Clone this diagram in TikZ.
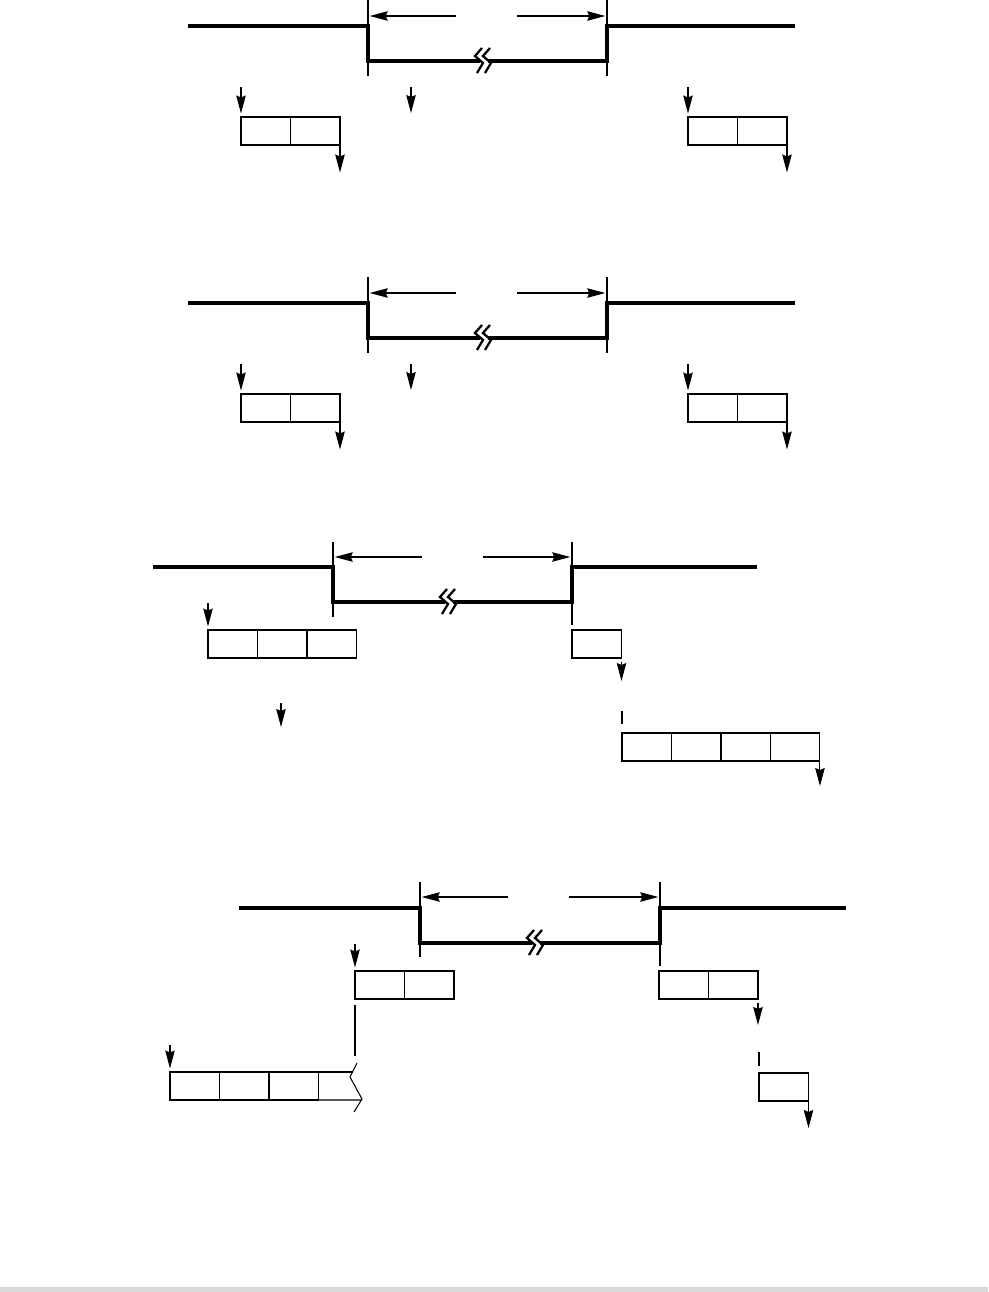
\documentclass[tikz,border=0pt]{standalone}
\usepackage{tikz}
\usetikzlibrary{arrows.meta,positioning}

\begin{document}
\begin{tikzpicture}[
    x=0.02cm, y=-0.02cm,
    sig/.style={line width=2pt},
    brk/.style={line width=1.3pt},
    tick/.style={line width=0.6pt},
    arr/.style={-{Stealth[length=3.6mm,width=1.9mm,inset=0.4mm]},line width=0.6pt},
    cell/.style={draw,line width=0.6pt,minimum width=0.99cm,minimum height=0.56cm,inner sep=0pt,outer sep=0pt}
]
\useasboundingbox (0,0) rectangle (988,1292);
\fill[gray!30] (0,1287) rectangle (988,1292);

% row 1
\draw[sig] (188,26) -- (368,26) -- (368,61) -- (480,61);
\draw[sig] (488,61) -- (607,61) -- (607,26) -- (795,26);
\draw[brk] (482,48) -- (475,56) -- (483,63) -- (477,73);
\draw[brk] (490,48) -- (483,56) -- (491,63) -- (485,73);
\coordinate (ta1) at (368,0);
\coordinate (tb1) at (607,0);
\draw[tick] (ta1) -- (368,76);
\draw[tick] (tb1) -- (607,76);
\coordinate (da1) at (456,16);
\coordinate (db1) at (517,16);
\draw[arr,shorten >=1pt] (da1) -- (da1 -| ta1);
\draw[arr,shorten >=1pt] (db1) -- (db1 -| tb1);
\node[cell,anchor=north west] (l11) at (241,117) {};
\node[cell,right=0pt of l11] (l12) {};
\node[cell,anchor=north west] (r11) at (688,117) {};
\node[cell,right=0pt of r11] (r12) {};
\coordinate[above=0.6cm of l11.north west] (il1);
\coordinate[above=0.6cm of r11.north west] (ir1);
\coordinate (im1) at (411,87);
\coordinate (jm1) at (411,113);
\coordinate[below=0.55cm of l12.south east] (ol1);
\coordinate[below=0.55cm of r12.south east] (or1);
\draw[arr,shorten >=2pt] (il1) -- (l11.north west);
\draw[arr] (im1) -- (jm1);
\draw[arr,shorten >=2pt] (ir1) -- (r11.north west);
\draw[arr] (l12.south east) -- (ol1);
\draw[arr] (r12.south east) -- (or1);

% row 2
\draw[sig] (188,303) -- (368,303) -- (368,338) -- (480,338);
\draw[sig] (488,338) -- (607,338) -- (607,303) -- (795,303);
\draw[brk] (482,325) -- (475,333) -- (483,340) -- (477,350);
\draw[brk] (490,325) -- (483,333) -- (491,340) -- (485,350);
\coordinate (ta2) at (368,277);
\coordinate (tb2) at (607,277);
\draw[tick] (ta2) -- (368,353);
\draw[tick] (tb2) -- (607,353);
\coordinate (da2) at (456,293);
\coordinate (db2) at (517,293);
\draw[arr,shorten >=1pt] (da2) -- (da2 -| ta2);
\draw[arr,shorten >=1pt] (db2) -- (db2 -| tb2);
\node[cell,anchor=north west] (l21) at (241,394) {};
\node[cell,right=0pt of l21] (l22) {};
\node[cell,anchor=north west] (r21) at (688,394) {};
\node[cell,right=0pt of r21] (r22) {};
\coordinate[above=0.6cm of l21.north west] (il2);
\coordinate[above=0.6cm of r21.north west] (ir2);
\coordinate (im2) at (411,364);
\coordinate (jm2) at (411,390);
\coordinate[below=0.55cm of l22.south east] (ol2);
\coordinate[below=0.55cm of r22.south east] (or2);
\draw[arr,shorten >=2pt] (il2) -- (l21.north west);
\draw[arr] (im2) -- (jm2);
\draw[arr,shorten >=2pt] (ir2) -- (r21.north west);
\draw[arr] (l22.south east) -- (ol2);
\draw[arr] (r22.south east) -- (or2);

% row 3
\draw[sig] (153,567) -- (333,567) -- (333,602) -- (445,602);
\draw[sig] (453,602) -- (572,602) -- (572,567) -- (757,567);
\draw[brk] (447,589) -- (440,597) -- (448,604) -- (442,614);
\draw[brk] (455,589) -- (448,597) -- (456,604) -- (450,614);
\coordinate (ta3) at (333,542);
\coordinate (tb3) at (572,542);
\draw[tick] (ta3) -- (333,617);
\draw[tick] (tb3) -- (572,625);
\coordinate (da3) at (422,557);
\coordinate (db3) at (483,557);
\draw[arr,shorten >=1pt] (da3) -- (da3 -| ta3);
\draw[arr,shorten >=1pt] (db3) -- (db3 -| tb3);
\node[cell,anchor=north west] (m31) at (208,630) {};
\node[cell,right=0pt of m31] (m32) {};
\node[cell,right=0pt of m32] (m33) {};
\node[cell,anchor=north west] (s31) at (572,630) {};
\node[cell,anchor=north west] (q31) at (622,733) {};
\node[cell,right=0pt of q31] (q32) {};
\node[cell,right=0pt of q32] (q33) {};
\node[cell,right=0pt of q33] (q34) {};
\coordinate[above=0.54cm of m31.north west] (im3);
\coordinate[below=0.46cm of s31.south east] (os3);
\coordinate (ic3) at (281,703);
\coordinate (jc3) at (281,727);
\coordinate[below=0.5cm of q34.south east] (oq3);
\draw[arr,shorten >=2pt] (im3) -- (m31.north west);
\draw[arr,shorten <=2pt] (s31.south east) -- (os3);
\draw[arr] (ic3) -- (jc3);
\draw[tick] (622,711) -- (622,724);
\draw[arr] (q34.south east) -- (oq3);

% row 4
\draw[sig] (239,908) -- (420,908) -- (420,943) -- (532,943);
\draw[sig] (540,943) -- (660,943) -- (660,908) -- (846,908);
\draw[brk] (534,930) -- (527,938) -- (535,945) -- (529,955);
\draw[brk] (542,930) -- (535,938) -- (543,945) -- (537,955);
\coordinate (ta4) at (420,882);
\coordinate (tb4) at (660,882);
\draw[tick] (ta4) -- (420,957);
\draw[tick] (tb4) -- (660,966);
\coordinate (da4) at (508,897);
\coordinate (db4) at (569,897);
\draw[arr,shorten >=1pt] (da4) -- (da4 -| ta4);
\draw[arr,shorten >=1pt] (db4) -- (db4 -| tb4);
\node[cell,anchor=north west] (a41) at (355,971) {};
\node[cell,right=0pt of a41] (a42) {};
\node[cell,anchor=north west] (b41) at (659,971) {};
\node[cell,right=0pt of b41] (b42) {};
\node[cell,anchor=north west] (k41) at (170,1072) {};
\node[cell,right=0pt of k41] (k42) {};
\node[cell,right=0pt of k42] (k43) {};
\node[cell,anchor=north west] (e41) at (759,1073) {};
\draw[tick] (k43.north east) -- (352.5,1072);
\draw[tick] (k43.south east) -- (362,1100);
\draw[tick] (357,1063) -- (350,1077) -- (362,1099) -- (354,1112);
\draw[tick] (355,1005) -- (355,1056);
\coordinate[above=0.54cm of a41.north west] (ia4);
\coordinate[above=0.54cm of k41.north west] (ik4);
\coordinate[below=0.52cm of b42.south east] (ob4);
\coordinate[below=0.54cm of e41.south east] (oe4);
\draw[arr,shorten >=2pt] (ia4) -- (a41.north west);
\draw[arr,shorten >=2pt] (ik4) -- (k41.north west);
\draw[arr,shorten <=2pt] (b42.south east) -- (ob4);
\draw[tick] (759,1052) -- (759,1066);
\draw[arr] (e41.south east) -- (oe4);
\end{tikzpicture}
\end{document}
